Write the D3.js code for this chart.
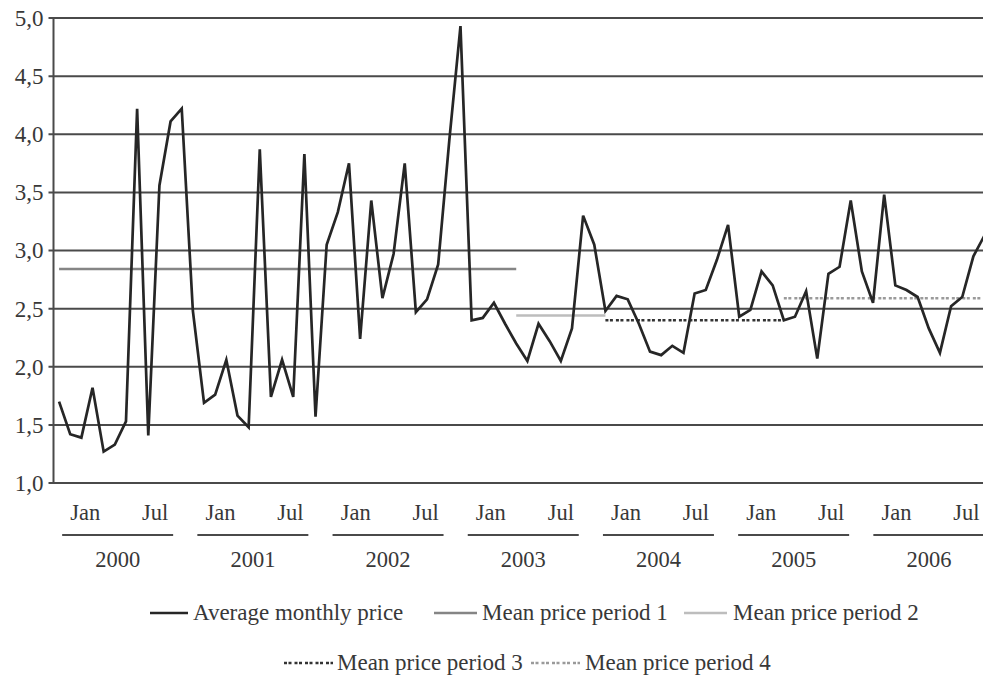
<!DOCTYPE html>
<html>
<head>
<meta charset="utf-8">
<script src="https://cdn.jsdelivr.net/npm/d3@7"></script>
<style>
  html, body { margin: 0; padding: 0; background: #fff; }
  svg { display: block; }
  text { font-family: "Liberation Serif", "Times New Roman", serif; fill: #383838; }
</style>
</head>
<body>
<svg id="chart" width="983" height="678"></svg>
<script>
// Average monthly price, Jan 2000 – Dec 2006
const years = ["2000", "2001", "2002", "2003", "2004", "2005", "2006"];
const monthTickLabels = ["Jan", "Jul"];
const yTicks = [1.0, 1.5, 2.0, 2.5, 3.0, 3.5, 4.0, 4.5, 5.0];

const monthlyPrice = [
  // 2000
  1.70, 1.42, 1.39, 1.82, 1.27, 1.33, 1.53, 4.22, 1.41, 3.56, 4.11, 4.22,
  // 2001
  2.48, 1.69, 1.76, 2.06, 1.58, 1.48, 3.87, 1.74, 2.06, 1.74, 3.83, 1.57,
  // 2002
  3.05, 3.33, 3.75, 2.24, 3.43, 2.59, 2.97, 3.75, 2.47, 2.58, 2.88, 3.95,
  // 2003
  4.93, 2.40, 2.42, 2.55, 2.37, 2.20, 2.05, 2.37, 2.22, 2.05, 2.33, 3.30,
  // 2004
  3.05, 2.48, 2.61, 2.58, 2.37, 2.13, 2.10, 2.18, 2.12, 2.63, 2.66, 2.92,
  // 2005
  3.22, 2.43, 2.49, 2.82, 2.70, 2.40, 2.43, 2.65, 2.07, 2.80, 2.86, 3.43,
  // 2006
  2.82, 2.55, 3.48, 2.70, 2.66, 2.60, 2.33, 2.12, 2.52, 2.60, 2.95, 3.13
];

// Mean price per period: value and first/last month index
const periodMeans = [2.84, 2.44, 2.40, 2.59];
const periodStart = [0, 41, 49, 65];
const periodEnd   = [41, 49, 65, 83];
const periodNames = ["Mean price period 1", "Mean price period 2", "Mean price period 3", "Mean price period 4"];
const seriesName = "Average monthly price";

const svg = d3.select("#chart");
const W = 983, H = 678;
const FS = 23;

const plotLeft = 53.5, plotTop = 18, plotBottom = 483;
const monthStep = 11.15;
const x = d3.scaleLinear()
  .domain([0, monthlyPrice.length - 1])
  .range([plotLeft + monthStep / 2, plotLeft + monthStep / 2 + (monthlyPrice.length - 1) * monthStep]);
const y = d3.scaleLinear().domain([1, 5]).range([plotBottom, plotTop]);

// Year bands for the two-level category labels
const yearBand = d3.scaleBand().domain(years).range([plotLeft, plotLeft + 7 * 135.2]);

// Horizontal gridlines
svg.append("g")
  .selectAll("line")
  .data(yTicks)
  .join("line")
  .attr("x1", plotLeft - 5)
  .attr("x2", W)
  .attr("y1", d => y(d))
  .attr("y2", d => y(d))
  .attr("stroke", "#4a4a4a")
  .attr("stroke-width", 2);

// Y axis labels and axis line
const yAxis = d3.axisLeft(y)
  .tickValues(yTicks)
  .tickSize(0)
  .tickPadding(10)
  .tickFormat(d => d3.format(".1f")(d).replace(".", ","));
const yg = svg.append("g").attr("transform", `translate(${plotLeft},0)`).call(yAxis);
yg.select(".domain").remove();
yg.selectAll("text")
  .attr("font-size", FS)
  .attr("font-family", "Liberation Serif, serif")
  .attr("fill", "#383838");

svg.append("line")
  .attr("x1", plotLeft).attr("x2", plotLeft)
  .attr("y1", y(5)).attr("y2", y(1))
  .attr("stroke", "#4a4a4a")
  .attr("stroke-width", 2);

// Period mean lines
const periodStyles = [
  { color: "#858585", dash: null },
  { color: "#bdbdbd", dash: null },
  { color: "#333333", dash: "3,1.5,3,3" },
  { color: "#9a9a9a", dash: "3,1.5,3,3" }
];
periodMeans.forEach((m, k) => {
  svg.append("line")
    .attr("x1", x(periodStart[k]))
    .attr("x2", x(periodEnd[k]))
    .attr("y1", y(m))
    .attr("y2", y(m))
    .attr("stroke", periodStyles[k].color)
    .attr("stroke-width", 2.5)
    .attr("stroke-dasharray", periodStyles[k].dash);
});

// Monthly price line
const line = d3.line()
  .x((d, i) => x(i))
  .y(d => y(d));
svg.append("path")
  .datum(monthlyPrice)
  .attr("d", line)
  .attr("fill", "none")
  .attr("stroke", "#262626")
  .attr("stroke-width", 2.7)
  .attr("stroke-linejoin", "miter");

// Month labels, year underlines and year labels
const bw = yearBand.bandwidth();
const yearG = svg.append("g")
  .selectAll("g")
  .data(years)
  .join("g")
  .attr("transform", d => `translate(${yearBand(d)},0)`);

yearG.selectAll("text.month")
  .data(monthTickLabels.map((m, k) => ({ m, k })))
  .join("text")
  .attr("class", "month")
  .attr("x", d => d.k === 0 ? bw * 0.235 : bw * 0.752)
  .attr("y", 520)
  .attr("text-anchor", "middle")
  .attr("font-size", FS - 0.5)
  .text(d => d.m);

yearG.append("line")
  .attr("x1", bw * 0.064)
  .attr("x2", bw * 0.885)
  .attr("y1", 535)
  .attr("y2", 535)
  .attr("stroke", "#4a4a4a")
  .attr("stroke-width", 2);

yearG.append("text")
  .attr("x", bw * 0.475)
  .attr("y", 567)
  .attr("text-anchor", "middle")
  .attr("font-size", FS - 0.5)
  .text(d => d);

// Legend
const legendItems = [
  { label: seriesName, color: "#262626", dash: null, sx: 150, sw: 38, tx: 193, ty: 620 },
  { label: periodNames[0], color: periodStyles[0].color, dash: null, sx: 434, sw: 43, tx: 482, ty: 620 },
  { label: periodNames[1], color: periodStyles[1].color, dash: null, sx: 684, sw: 43, tx: 733, ty: 620 },
  { label: periodNames[2], color: periodStyles[2].color, dash: "3,1.5,3,3", sx: 284, sw: 49, tx: 337, ty: 670 },
  { label: periodNames[3], color: periodStyles[3].color, dash: "3,1.5,3,3", sx: 531, sw: 49, tx: 585, ty: 670 }
];
const lg = svg.append("g")
  .selectAll("g")
  .data(legendItems)
  .join("g");
lg.append("line")
  .attr("x1", d => d.sx)
  .attr("x2", d => d.sx + d.sw)
  .attr("y1", d => d.ty - 7)
  .attr("y2", d => d.ty - 7)
  .attr("stroke", d => d.color)
  .attr("stroke-width", 2.6)
  .attr("stroke-dasharray", d => d.dash);
lg.append("text")
  .attr("x", d => d.tx)
  .attr("y", d => d.ty)
  .attr("font-size", FS)
  .text(d => d.label);
</script>
</body>
</html>
